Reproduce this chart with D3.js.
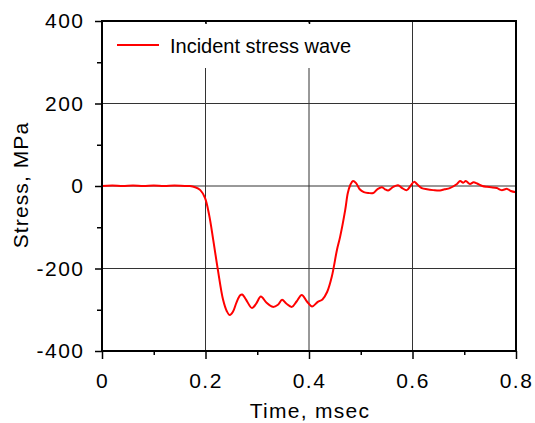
<!DOCTYPE html>
<html lang="en">
<head>
<meta charset="UTF-8">
<script src="https://d3js.org/d3.v7.min.js"></script>
<style>
  body { margin: 0; background: #fff; }
  text { font-family: "Liberation Sans", Arial, sans-serif; fill: #000; }
</style>
</head>
<body>
<div id="container"></div>
<script type="text/javascript">

// incident stress wave
const timeMs = [0, 0.02, 0.04, 0.06, 0.08, 0.10, 0.12, 0.14, 0.16, 0.17, 0.18, 0.19, 0.199, 0.207, 0.215, 0.224,
    0.234, 0.241, 0.247, 0.253, 0.260, 0.267, 0.271, 0.278, 0.290, 0.298, 0.307, 0.318, 0.330, 0.340, 0.348,
    0.356, 0.367, 0.376, 0.386, 0.396, 0.406, 0.417, 0.426, 0.435, 0.444, 0.454, 0.460, 0.470, 0.475, 0.480,
    0.485, 0.491, 0.498, 0.506, 0.515, 0.524, 0.532, 0.541, 0.547, 0.553, 0.562, 0.572, 0.580, 0.589, 0.596,
    0.603, 0.610, 0.618, 0.628, 0.640, 0.653, 0.662, 0.672, 0.686, 0.692, 0.698, 0.703, 0.711, 0.718, 0.725,
    0.735, 0.744, 0.752, 0.763, 0.772, 0.783, 0.790, 0.800];
const stressMPa = [0, 1, 0, 1, 0, 1, 0, 1, 0, 0, -3, -10, -29, -70, -131, -204,
    -276, -303, -313, -305, -282, -265, -263, -275, -296, -285, -268, -283, -293, -288, -276,
    -285, -293, -280, -264, -280, -292, -281, -275, -257, -220, -155, -124, -58, -17, 3,
    12, 7, -8, -15, -17, -17, -8, -3, -8, -11, -3, 2, -5, -10, 0,
    10, 3, -5, -8, -10, -11, -8, -5, 5, 12, 8, 12, 5, 9, 6,
    0, -2, -3, -5, -10, -7, -12, -15];

const xTicks = [0, 0.2, 0.4, 0.6, 0.8];
const xMinorTicks = [0.1, 0.3, 0.5, 0.7];
const yTicks = [-400, -200, 0, 200, 400];
const yMinorTicks = [-300, -100, 100, 300];
const xGrid = [0.2, 0.4, 0.6];
const yGrid = [-200, 0, 200];
const seriesName = "Incident stress wave";

const w = 535, h = 423;
const margin = { left: 102, right: 19, top: 21, bottom: 72 };
const labelFont = { size: "21px", spacing: "1.5px" };

const svg = d3.select("#container")
    .append("svg")
    .attr("width", w)
    .attr("height", h)
    .style("display", "block");

const xScale = d3.scaleLinear().domain([0, 0.8]).range([margin.left, w - margin.right]);
const yScale = d3.scaleLinear().domain([-400, 400]).range([h - margin.bottom, margin.top]);

// grid
svg.append("g").selectAll("line")
    .data(xGrid)
    .enter().append("line")
    .attr("x1", d => xScale(d)).attr("x2", d => xScale(d))
    .attr("y1", yScale(400)).attr("y2", yScale(-400))
    .attr("stroke", "#333").attr("stroke-width", 1);

svg.append("g").selectAll("line")
    .data(yGrid)
    .enter().append("line")
    .attr("x1", xScale(0)).attr("x2", xScale(0.8))
    .attr("y1", d => yScale(d)).attr("y2", d => yScale(d))
    .attr("stroke", "#333").attr("stroke-width", 1);

// data line
const line = d3.line()
    .x((d, i) => xScale(timeMs[i]))
    .y(d => yScale(d))
    .curve(d3.curveCatmullRom);

svg.append("path")
    .datum(stressMPa)
    .attr("fill", "none")
    .attr("stroke", "#ff0000")
    .attr("stroke-width", 2)
    .attr("stroke-linejoin", "round")
    .attr("d", line);

// legend (white box hides the grid behind it)
const legend = svg.append("g");
legend.append("rect")
    .attr("x", xScale(0) + 2).attr("y", yScale(400) + 2)
    .attr("width", 268).attr("height", 45)
    .attr("fill", "#fff");
legend.append("line")
    .attr("x1", 117).attr("x2", 159)
    .attr("y1", 45).attr("y2", 45)
    .attr("stroke", "#ff0000").attr("stroke-width", 2);
legend.append("text")
    .attr("x", 170).attr("y", 53)
    .style("font-size", "20px")
    .text(seriesName);

// axes
const yAxis = d3.axisLeft(yScale).tickValues(yTicks).tickSize(7).tickSizeOuter(0).tickPadding(10.5)
    .tickFormat(d => String(d));
const yAxisMinor = d3.axisLeft(yScale).tickValues(yMinorTicks).tickSize(5).tickSizeOuter(0).tickFormat("");
const xAxis = d3.axisBottom(xScale).tickValues(xTicks).tickSize(8).tickSizeOuter(0).tickPadding(14)
    .tickFormat(d => d === 0 ? "0" : d3.format(".1f")(d));
const xAxisMinor = d3.axisBottom(xScale).tickValues(xMinorTicks).tickSize(4).tickSizeOuter(0).tickFormat("");
const xTopTicks = d3.axisBottom(xScale).tickValues([0.2, 0.4]).tickSize(3).tickSizeOuter(0).tickFormat("");

const styleLabels = g => g.selectAll("text")
    .style("font-size", labelFont.size)
    .style("letter-spacing", labelFont.spacing)
    .style("font-family", "Liberation Sans, Arial, sans-serif");

svg.append("g")
    .attr("transform", "translate(" + margin.left + ",0)")
    .call(yAxis)
    .call(g => g.select(".domain").remove())
    .call(styleLabels);
svg.append("g")
    .attr("transform", "translate(" + margin.left + ",0)")
    .call(yAxisMinor)
    .call(g => g.select(".domain").remove());

svg.append("g")
    .attr("transform", "translate(0," + (h - margin.bottom) + ")")
    .call(xAxis)
    .call(g => g.select(".domain").remove())
    .call(styleLabels);
svg.append("g")
    .attr("transform", "translate(0," + (h - margin.bottom) + ")")
    .call(xAxisMinor)
    .call(g => g.select(".domain").remove());
svg.append("g")
    .attr("transform", "translate(0," + margin.top + ")")
    .call(xTopTicks)
    .call(g => g.select(".domain").remove());

svg.selectAll(".tick line").attr("stroke", "#000").attr("stroke-width", 1.5);

// frame
svg.append("rect")
    .attr("x", xScale(0)).attr("y", yScale(400))
    .attr("width", xScale(0.8) - xScale(0))
    .attr("height", yScale(-400) - yScale(400))
    .attr("fill", "none")
    .attr("stroke", "#000")
    .attr("stroke-width", 2);

// axis titles
svg.append("text")
    .attr("x", (xScale(0) + xScale(0.8)) / 2 + 1)
    .attr("y", 418)
    .attr("text-anchor", "middle")
    .style("font-size", labelFont.size)
    .style("letter-spacing", "1.3px")
    .text("Time, msec");

svg.append("text")
    .attr("transform", "translate(28," + (yScale(0) - 1) + ") rotate(-90)")
    .attr("text-anchor", "middle")
    .style("font-size", labelFont.size)
    .style("letter-spacing", "1.1px")
    .text("Stress, MPa");

</script>
</body>
</html>
